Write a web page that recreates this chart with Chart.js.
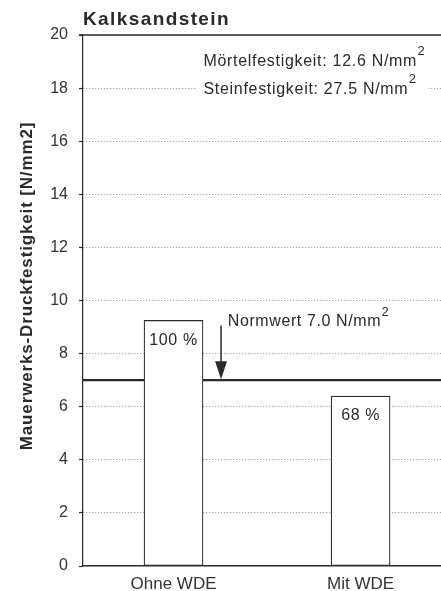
<!DOCTYPE html>
<html><head><meta charset="utf-8"><title>Kalksandstein</title>
<script src="https://cdn.jsdelivr.net/npm/chart.js"></script>
<style>
  html, body { margin: 0; padding: 0; background: #fff; overflow: hidden; }
  #wrap { width: 441px; height: 591px; }
</style>
</head>
<body>
<div id="wrap"><canvas id="chart"></canvas></div>
<script>
const categories = ['Ohne WDE', 'Mit WDE'];
const strength = [9.25, 6.4];
const percentLabels = ['100 %', '68 %'];
const normValue = 7.0;
const yMin = 0, yMax = 20, yStep = 2;
const titleText = 'Kalksandstein';
const yTitleText = 'Mauerwerks-Druckfestigkeit [N/mm2]';
const infoLines = ['Mörtelfestigkeit: 12.6 N/mm', 'Steinfestigkeit: 27.5 N/mm'];
const normText = 'Normwert 7.0 N/mm';
// visible x range (the right side of the original figure is cut off)
const xMin = -0.484, xMax = 1.43;

const ink = '#2a2a2a';
const FONT = '"Liberation Sans", Arial, sans-serif';

// text followed by a raised "2"
function textWithSup(ctx, text, x, y, size, spacing, supScale, raise) {
  ctx.letterSpacing = spacing + 'px';
  ctx.font = size + 'px ' + FONT;
  ctx.textAlign = 'left';
  ctx.textBaseline = 'middle';
  ctx.fillText(text, x, y);
  const w = ctx.measureText(text).width - spacing;
  ctx.font = Math.round(size * supScale) + 'px ' + FONT;
  ctx.fillText('2', x + w + 1, y - size * raise);
}

const annotations = {
  id: 'annotations',
  afterDatasetsDraw(chart) {
    const ctx = chart.ctx;
    const xs = chart.scales.x, ys = chart.scales.y;
    const area = chart.chartArea;
    ctx.save();
    ctx.fillStyle = ink;
    ctx.strokeStyle = ink;

    // top frame line at 20
    const yTop = ys.getPixelForValue(yMax);
    ctx.lineWidth = 1.5;
    ctx.beginPath();
    ctx.moveTo(area.left - 4, yTop);
    ctx.lineTo(area.right, yTop);
    ctx.stroke();

    // title
    ctx.font = 'bold 19px ' + FONT;
    ctx.letterSpacing = '1.4px';
    ctx.textAlign = 'left';
    ctx.textBaseline = 'middle';
    ctx.fillText(titleText, area.left, 20);

    // y axis title
    ctx.save();
    ctx.letterSpacing = '0.85px';
    ctx.translate(27, 286);
    ctx.rotate(-Math.PI / 2);
    ctx.font = 'bold 17px ' + FONT;
    ctx.textAlign = 'center';
    ctx.fillText(yTitleText, 0, 0);
    ctx.restore();

    // info box
    const bx = xs.getPixelForValue(0.16);
    ctx.fillStyle = '#fff';
    ctx.fillRect(bx - 7, ys.getPixelForValue(19.6), 232, ys.getPixelForValue(17.4) - ys.getPixelForValue(19.6));
    ctx.fillStyle = ink;
    textWithSup(ctx, infoLines[0], bx, ys.getPixelForValue(18.98), 16, 0.7, 0.82, 0.64);
    textWithSup(ctx, infoLines[1], bx, ys.getPixelForValue(17.95), 16, 0.7, 0.82, 0.64);

    // Normwert label and arrow
    textWithSup(ctx, normText, xs.getPixelForValue(0.29), ys.getPixelForValue(9.22), 16, 0.6, 0.8, 0.58);
    const ax = xs.getPixelForValue(0.254);
    const aTop = ys.getPixelForValue(9.06);
    const aTip = ys.getPixelForValue(normValue) - 1;
    ctx.lineWidth = 1.5;
    ctx.beginPath();
    ctx.moveTo(ax, aTop);
    ctx.lineTo(ax, aTip - 10);
    ctx.stroke();
    ctx.beginPath();
    ctx.moveTo(ax - 6, aTip - 18);
    ctx.lineTo(ax + 6, aTip - 18);
    ctx.lineTo(ax, aTip);
    ctx.closePath();
    ctx.fill();

    // percent labels inside bars
    const meta = chart.getDatasetMeta(0);
    ctx.letterSpacing = '0.6px';
    ctx.font = '16px ' + FONT;
    ctx.textAlign = 'center';
    meta.data.forEach((bar, i) => {
      ctx.fillText(percentLabels[i], bar.x, bar.y + 20);
    });
    ctx.restore();
  }
};

new Chart(document.getElementById('chart'), {
  data: {
    datasets: [{
      type: 'bar',
      data: categories.map((c, i) => ({ x: i, y: strength[i] })),
      backgroundColor: '#fff',
      borderColor: ink,
      borderWidth: 1.2,
      borderSkipped: false,
      barThickness: 59,
      order: 1
    }, {
      type: 'line',
      data: [{ x: xMin, y: normValue }, { x: xMax, y: normValue }],
      borderColor: ink,
      borderWidth: 2.2,
      pointRadius: 0,
      order: 2
    }]
  },
  options: {
    responsive: true,
    maintainAspectRatio: false,
    animation: false,
    layout: { padding: { top: 35, left: 0, right: 0, bottom: 0 } },
    plugins: { legend: { display: false }, tooltip: { enabled: false }, title: { display: false } },
    scales: {
      x: {
        type: 'linear',
        min: xMin,
        max: xMax,
        offset: false,
        afterBuildTicks: (scale) => { scale.ticks = categories.map((c, i) => ({ value: i })); },
        afterFit: (scale) => { scale.height = 25; },
        grid: { display: false, drawTicks: false, offset: false },
        border: { display: true, color: ink, width: 1.5 },
        ticks: {
          autoSkip: false,
          maxRotation: 0,
          padding: 8,
          color: '#333',
          font: { family: FONT, size: 17 },
          callback: (v) => categories[v]
        }
      },
      y: {
        min: yMin,
        max: yMax,
        afterFit: (scale) => { scale.width = 83; },
        ticks: {
          stepSize: yStep,
          padding: 11,
          color: '#333',
          font: { family: FONT, size: 16 }
        },
        grid: {
          color: (c) => (c.tick && (c.tick.value === yMin || c.tick.value === yMax)) ? 'rgba(0,0,0,0)' : '#8a8a8a',
          lineWidth: 1,
          tickLength: 4,
          tickColor: ink,
          tickWidth: 1.2
        },
        border: { display: true, color: ink, width: 1.2, dash: [1, 2] }
      }
    }
  },
  plugins: [annotations]
});
</script>
</body>
</html>
